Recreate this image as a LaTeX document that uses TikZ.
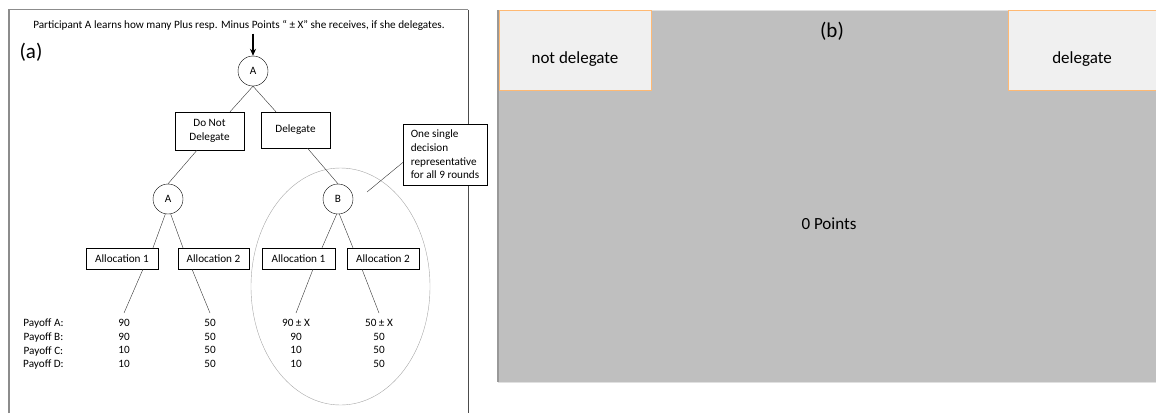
\documentclass[tikz,border=0pt]{standalone}
\usepackage{fontspec}
\setmainfont{Carlito}
\usepackage{xcolor}
\usepackage{tikz}
\usetikzlibrary{arrows.meta,shapes.geometric}

\tikzset{
  txt/.style={font=\fontsize{11.2}{13.6}\selectfont},
  choice/.style={draw, thin, fill=white, txt, align=center, inner sep=0pt},
  person/.style={draw, thin, circle, fill=white, txt, minimum size=30pt, inner sep=0pt},
  payoff/.style={txt, align=center, anchor=north, inner xsep=0pt, inner ysep=6pt},
  branch/.style={thin, black!80},
  panelbox/.style={fill=black!6, draw=orange!55, font=\fontsize{17}{20}\selectfont,
    inner sep=0pt, text height=26pt, text depth=0pt},
  bigtxt/.style={font=\fontsize{21}{24}\selectfont},
}

\begin{document}
\begin{tikzpicture}[x=1pt,y=-1pt]
\useasboundingbox (0,0) rectangle (1156,413);

% Panel (a): frame
\draw[black!45, line width=1.5pt] (9,413) -- (9,9.5) -- (468,9.5);
\draw[black!70, line width=1pt] (468,9.5) -- (468,413);

\node[txt] (cap) at (239,25) {Participant A learns how many Plus resp. Minus Points “ ± X” she receives, if she delegates.};
\node[bigtxt] (lbla) at (31,52) {(a)};

% Group of the representative
\node[draw=black!35, ellipse, minimum width=179pt, minimum height=237pt, inner sep=0pt] (group) at (340.5,286.5) {};

% Decision tree
\node[person] (rootA) at (253,71) {A};
\draw[-{Stealth[length=7pt,width=6pt]}, line width=1.6pt] (rootA |- cap.south) -- (rootA.north);

\node[choice, minimum width=69pt, minimum height=38pt] (dnd) at (209.5,131) {Do Not\\Delegate};
\node[choice, minimum width=69pt, minimum height=36pt] (del) at (295.5,130) {Delegate};

\node[person] (selfA) at (168,199) {A};
\node[person] (repB) at (338,199) {B};

\node[choice, minimum width=72pt, minimum height=21pt] (allocA1) at (122,258.5) {Allocation 1};
\node[choice, minimum width=71pt, minimum height=21pt] (allocA2) at (213.5,258.5) {Allocation 2};
\node[choice, minimum width=73pt, minimum height=21pt] (allocB1) at (298.5,258.5) {Allocation 1};
\node[choice, minimum width=72pt, minimum height=21pt] (allocB2) at (383,258.5) {Allocation 2};

\draw[branch] (rootA.south) -- ([xshift=20.5pt]dnd.north);
\draw[branch] (rootA.south) -- ([xshift=-19.5pt]del.north);
\draw[branch] ([xshift=-12.5pt]dnd.south) -- (selfA.north);
\draw[branch] ([xshift=12pt]del.south) -- (repB.north);

\draw[branch] (selfA.-100) -- ([xshift=31pt]allocA1.north);
\draw[branch] (selfA.-80) -- ([xshift=-30.5pt]allocA2.north);
\draw[branch] (repB.-95) -- ([xshift=23.5pt]allocB1.north);
\draw[branch] (repB.-85) -- ([xshift=-30pt]allocB2.north);

% Payoffs
\node[payoff, anchor=north west] (labels) at (23,313) {Payoff A:\\Payoff B:\\Payoff C:\\Payoff D:};
\node[payoff] (payA1) at (124,313) {90\\90\\10\\10};
\node[payoff] (payA2) at (210,313) {50\\50\\50\\50};
\node[payoff] (payB1) at (296,313) {90 ± X\\90\\10\\10};
\node[payoff] (payB2) at (379,313) {50 ± X\\50\\50\\50};

\draw[branch] ([xshift=21pt]allocA1.south) -- (payA1.north);
\draw[branch] ([xshift=-21.5pt]allocA2.south) -- (payA2.north);
\draw[branch] ([xshift=14.5pt]allocB1.south) -- (payB1.north);
\draw[branch] ([xshift=-21pt]allocB2.south) -- (payB2.north);

% Callout
\node[choice, align=left, minimum width=84pt, minimum height=61pt] (note) at (445,154.5) {One single\\decision\\representative\\for all 9 rounds};
\coordinate (pointer) at (367,192);
\draw[branch] ([yshift=-8pt]note.west) -- (pointer);

% Panel (b): screen
\fill[black!25] (498,10) rectangle (1156,382);
\draw[black!12] (498,10) -- (1156,10);
\draw[black!12] (498,382.5) -- (1156,382.5);
\draw[black!40, line width=1.5pt] (498,10) -- (498,382);

\node[panelbox, minimum width=152pt, minimum height=80pt] (notdel) at (575,50) {not delegate};
\node[panelbox, minimum width=148pt, minimum height=80pt] (deleg) at (1082,50) {delegate};
\node[bigtxt] (lblb) at (832,31) {(b)};
\node[font=\fontsize{17}{20}\selectfont] (score) at (829,224) {0 Points};

\end{tikzpicture}
\end{document}
